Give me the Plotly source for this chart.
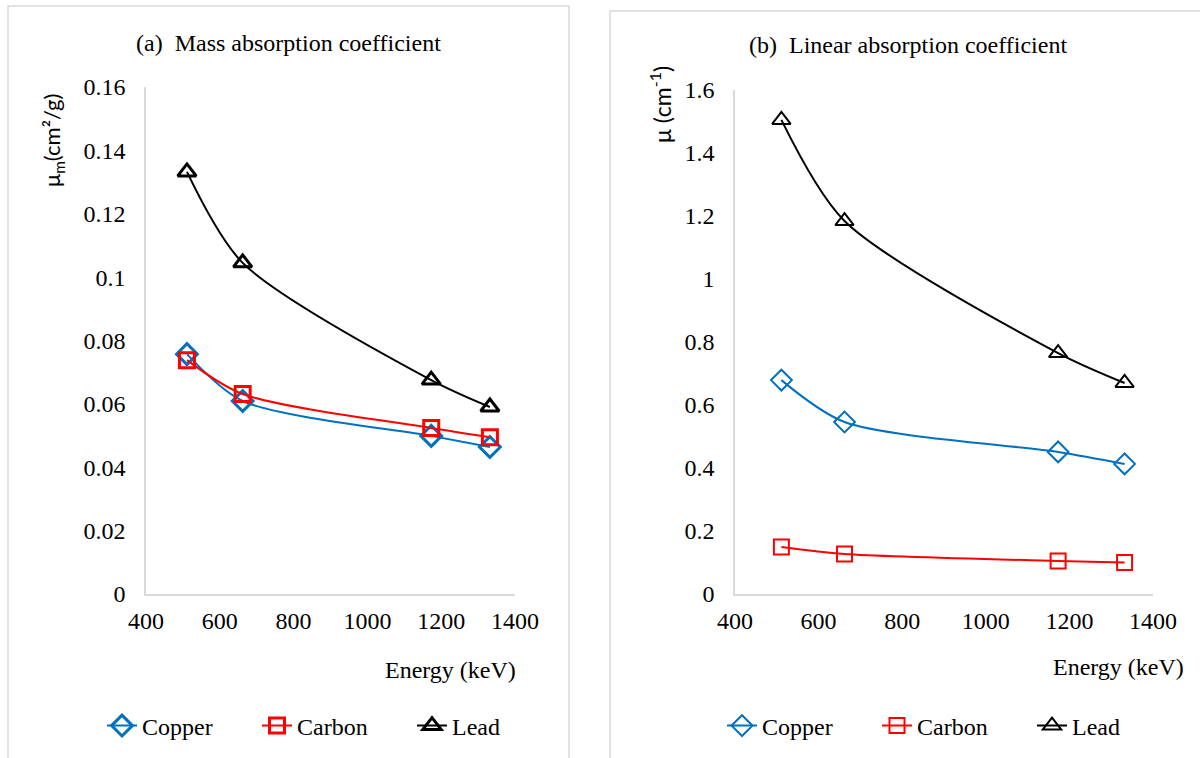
import plotly.graph_objects as go

# Photon energies (keV)
energy = [511, 662, 1173, 1332]

# (a) Mass absorption coefficient, cm^2/g
mass_copper = [0.0757, 0.0609, 0.0499, 0.0464]
mass_carbon = [0.0738, 0.0631, 0.0524, 0.0495]
mass_lead = [0.1332, 0.1045, 0.0675, 0.0590]

# (b) Linear absorption coefficient, cm^-1
lin_copper = [0.679, 0.546, 0.451, 0.413]
lin_carbon = [0.149, 0.127, 0.105, 0.100]
lin_lead = [1.505, 1.184, 0.765, 0.670]

series_names = ["Copper", "Carbon", "Lead"]
series_colors = ["#0070C0", "#FF0000", "#000000"]
series_symbols = ["diamond-open", "square-open", "triangle-up-open"]
series_sizes = [16, 15, 16]

W, H = 1200, 758
SERIF = "Times New Roman, Liberation Serif, serif"
SANS = "Lato, sans-serif"
FS = 24


def px_x(p):
    return p / W


def px_y(p):
    return 1 - p / H


fig = go.Figure()

panels = [
    dict(xa="x", ya="y", legend="legend", data=[mass_copper, mass_carbon, mass_lead], mw=3),
    dict(xa="x2", ya="y2", legend="legend2", data=[lin_copper, lin_carbon, lin_lead], mw=2),
]

for p in panels:
    for name, color, sym, size, vals in zip(series_names, series_colors, series_symbols,
                                            series_sizes, p["data"]):
        fig.add_trace(go.Scatter(
            x=energy, y=vals, name=name, mode="lines+markers",
            xaxis=p["xa"], yaxis=p["ya"], legend=p["legend"],
            line=dict(color=color, width=2, shape="spline", smoothing=0.8),
            marker=dict(symbol=sym, size=size, color=color,
                        line=dict(color=color, width=p["mw"])),
        ))

fig.update_layout(
    width=W, height=H,
    margin=dict(l=0, r=0, t=0, b=0, pad=0, autoexpand=False),
    paper_bgcolor="white", plot_bgcolor="white",
    font=dict(family=SERIF, size=FS, color="#000000"),
    showlegend=True,
    xaxis=dict(domain=[px_x(146), px_x(515)], range=[400, 1400], dtick=200,
               anchor="y", ticklabelstandoff=4),
    yaxis=dict(domain=[px_y(594), px_y(87)], range=[0, 0.16], dtick=0.02,
               anchor="x", ticklabelstandoff=14),
    xaxis2=dict(domain=[px_x(735), px_x(1153)], range=[400, 1400], dtick=200,
                anchor="y2", ticklabelstandoff=4),
    yaxis2=dict(domain=[px_y(594), px_y(90)], range=[0, 1.6], dtick=0.2,
                anchor="x2", ticklabelstandoff=14),
    legend=dict(x=px_x(102), y=px_y(726)),
    legend2=dict(x=px_x(722), y=px_y(726)),
)

fig.update_xaxes(showgrid=False, zeroline=False, showline=True, linecolor="#D9D9D9",
                 linewidth=1.5, ticks="", tickfont_family=SERIF, tickfont_size=FS,
                 tickfont_color="#000000")
fig.update_yaxes(showgrid=False, zeroline=False, showline=True, linecolor="#D9D9D9",
                 linewidth=1.5, ticks="", tickfont_family=SERIF, tickfont_size=FS,
                 tickfont_color="#000000")

for lg in ("legend", "legend2"):
    fig.update_layout({lg: dict(orientation="h", xanchor="left", yanchor="middle",
                                font_family=SERIF, font_size=FS, font_color="#000000",
                                entrywidth=110, entrywidthmode="pixels",
                                tracegroupgap=0, bgcolor="rgba(0,0,0,0)")})

# Panel frames
fig.add_shape(type="rect", xref="paper", yref="paper",
              x0=px_x(8), x1=px_x(569), y0=px_y(760), y1=px_y(6),
              line=dict(color="#D9D9D9", width=1.5), fillcolor="rgba(0,0,0,0)", layer="below")
fig.add_shape(type="rect", xref="paper", yref="paper",
              x0=px_x(610), x1=px_x(1205), y0=px_y(760), y1=px_y(11),
              line=dict(color="#D9D9D9", width=1.5), fillcolor="rgba(0,0,0,0)", layer="below")

annotations = [
    dict(text="(a)\u00a0 Mass absorption coefficient", x=px_x(288), y=px_y(43),
         font=dict(family=SERIF, size=FS, color="#000000")),
    dict(text="(b)\u00a0 Linear absorption coefficient", x=px_x(908), y=px_y(45),
         font=dict(family=SERIF, size=FS, color="#000000")),
    dict(text="Energy (keV)", x=px_x(518), y=px_y(670), xanchor="right",
         font=dict(family=SERIF, size=FS, color="#000000")),
    dict(text="Energy (keV)", x=px_x(1186), y=px_y(667), xanchor="right",
         font=dict(family=SERIF, size=FS, color="#000000")),
    dict(text="μ<sub>m</sub>(cm²/g)", x=px_x(53), y=px_y(141), textangle=-90,
         font=dict(family=SANS, size=22, color="#000000")),
    dict(text="μ (cm<sup>-1</sup>)", x=px_x(660), y=px_y(105), textangle=-90,
         font=dict(family=SANS, size=23, color="#000000")),
]
for a in annotations:
    a.update(xref="paper", yref="paper", showarrow=False)
    a.setdefault("xanchor", "center")
    a.setdefault("yanchor", "middle")
    fig.add_annotation(**a)

fig.write_html("out.html")
